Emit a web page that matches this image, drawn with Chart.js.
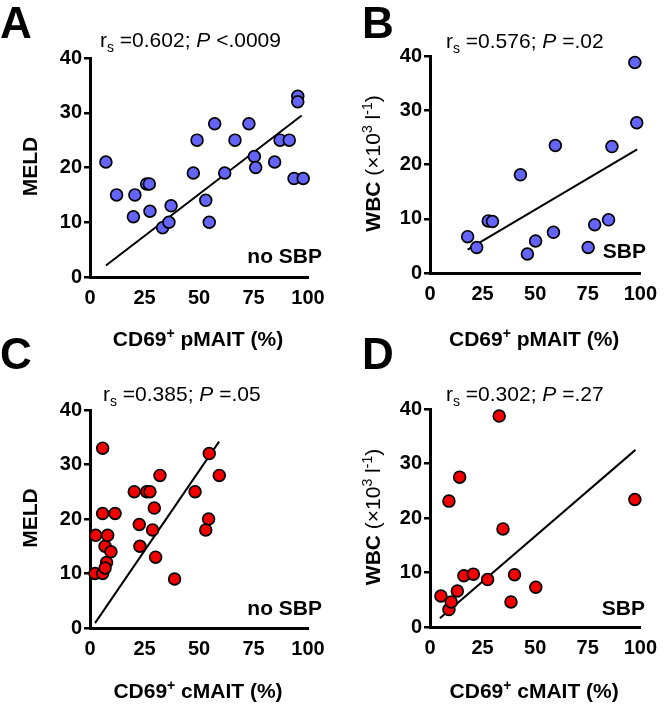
<!DOCTYPE html>
<html>
<head>
<meta charset="utf-8">
<script src="https://cdn.jsdelivr.net/npm/chart.js@4.4.1/dist/chart.umd.min.js"></script>
<style>
  body { margin: 0; background: #fff; }
  #wrap { position: relative; width: 666px; height: 705px; }
  #wrap canvas { position: absolute; left: 0; top: 0; }
</style>
</head>
<body>
<div id="wrap">
  <canvas id="chartA" width="666" height="705"></canvas>
  <canvas id="chartB" width="666" height="705"></canvas>
  <canvas id="chartC" width="666" height="705"></canvas>
  <canvas id="chartD" width="666" height="705"></canvas>
</div>
<script>
// ---- data ----
// A: CD69+ pMAIT vs MELD (no SBP)
const pmaitA = [7.3, 12.2, 20.6, 19.9, 26, 27.2, 27.5, 33.3, 36.2, 37.2, 47.4, 49.1, 53.1, 54.7,
  57.2, 61.8, 66.5, 72.9, 75.4, 76, 84.7, 87.2, 91.4, 95.3, 95.3, 93.6, 97.8];
const meldA = [21, 15, 15, 11, 17, 17, 12, 9, 10, 13, 19, 25, 14, 10,
  28, 19, 25, 28, 22, 20, 21, 25, 25, 33, 32, 18, 18];
const fitA = [[7.3, 2.1], [97.1, 29.5]];

// B: CD69+ pMAIT vs WBC (SBP)
const pmaitB = [17.9, 22.2, 27.7, 29.7, 43, 46.3, 50.2, 58.7, 59.6, 75.2, 78.3, 84.9, 86.5, 97.4, 98.3];
const wbcB = [6.7, 4.7, 9.6, 9.5, 18.1, 3.5, 5.9, 7.5, 23.5, 4.7, 8.9, 9.8, 23.3, 38.8, 27.7];
const fitB = [[17.9, 4.3], [98.5, 22.8]];

// C: CD69+ cMAIT vs MELD (no SBP)
const cmaitC = [2.6, 2.3, 5.8, 5.8, 5.8, 6.9, 7.6, 6.9, 8.1, 9.6, 11.5, 20.3, 22.6, 22.9,
  26, 27.5, 29.5, 28.7, 30.1, 32.1, 38.8, 48.2, 53.1, 54.4, 54.7, 59.3];
const meldC = [17, 10, 33, 21, 10, 15, 12, 11, 17, 14, 21, 25, 19, 15,
  25, 25, 22, 18, 13, 28, 9, 25, 18, 20, 32, 28];
const fitC = [[2.3, 0.9], [59.2, 34.2]];

// D: CD69+ cMAIT vs WBC (SBP)
const cmaitD = [5.2, 9, 10.1, 9, 13, 14.1, 16.1, 20.6, 27.4, 32.9, 34.7, 38.5, 40.2, 50.3, 97.4];
const wbcD = [5.7, 3.2, 4.6, 23.1, 6.6, 27.5, 9.4, 9.7, 8.7, 38.7, 18, 4.6, 9.6, 7.3, 23.4];
const fitD = [[4.7, 1.6], [97.7, 32.5]];

const xTicks = [0, 25, 50, 75, 100];
const yTicks = [0, 10, 20, 30, 40];

const statsA = ["0.602", "<.0009"];
const statsB = ["0.576", "=.02"];
const statsC = ["0.385", "=.05"];
const statsD = ["0.302", "=.27"];

const BLUE = "rgb(100, 100, 248)";
const RED = "rgb(240, 0, 0)";
const SANS = '"Liberation Sans", Arial, sans-serif';

function f(style, size) {
  return style + " " + size + "px " + SANS;
}

// draws a run of text pieces (sub/superscripts), optionally rotated
function drawRich(ctx, parts, x, y, align, rotate) {
  ctx.save();
  ctx.translate(x, y);
  if (rotate) ctx.rotate(-Math.PI / 2);
  ctx.fillStyle = "#000";
  ctx.textBaseline = "alphabetic";
  ctx.textAlign = "left";
  let total = 0;
  parts.forEach((p) => {
    ctx.font = p.font;
    total += ctx.measureText(p.text).width;
  });
  let cx = align == "center" ? -total / 2 : align == "right" ? -total : 0;
  parts.forEach((p) => {
    ctx.font = p.font;
    ctx.fillText(p.text, cx, p.dy || 0);
    cx += ctx.measureText(p.text).width;
  });
  ctx.restore();
}

function statsParts(stats) {
  return [
    { text: "r", font: f("normal", 21) },
    { text: "s", font: f("normal", 14), dy: 5 },
    { text: " =" + stats[0] + "; ", font: f("normal", 21) },
    { text: "P", font: f("italic", 21) },
    { text: " " + stats[1], font: f("normal", 21) },
  ];
}

function xTitleParts(cell) {
  return [
    { text: "CD69", font: f("bold", 21) },
    { text: "+", font: f("bold", 14), dy: -8 },
    { text: " " + cell + " (%)", font: f("bold", 21) },
  ];
}

const meldTitle = [{ text: "MELD", font: f("bold", 21) }];
const wbcTitle = [
  { text: "WBC ", font: f("bold", 21) },
  { text: "(\u00d710", font: f("normal", 21) },
  { text: "3", font: f("normal", 14), dy: -8 },
  { text: " l", font: f("normal", 21) },
  { text: "-1", font: f("normal", 14), dy: -8 },
  { text: ")", font: f("normal", 21) },
];

const decorPlugin = {
  id: "decor",
  afterDraw(chart, args, o) {
    const ctx = chart.ctx;
    const a = chart.chartArea;
    drawRich(ctx, [{ text: o.letter, font: f("bold", 44) }], o.letterX, o.letterY, "left");
    drawRich(ctx, statsParts(o.stats), o.statsX, o.statsY, "left");
    drawRich(ctx, o.yTitle, o.yTitleX, (a.top + a.bottom) / 2 - 1, "center", true);
    drawRich(ctx, xTitleParts(o.cell), (a.left + a.right) / 2 - 1, o.xTitleY, "center");
    drawRich(ctx, [{ text: o.group, font: f("bold", 21) }], o.groupX, o.groupY, "right");
  },
};

function makeChart(id, area, xs, ys, fit, color, decor) {
  const pts = xs.map((x, i) => ({ x: x, y: ys[i] }));
  const line = fit.map((p) => ({ x: p[0], y: p[1] }));
  return new Chart(document.getElementById(id), {
    type: "scatter",
    data: {
      datasets: [
        {
          data: pts,
          backgroundColor: color,
          borderColor: "#000",
          borderWidth: 1.7,
          pointRadius: 5.9,
          clip: false,
        },
        {
          data: line,
          showLine: true,
          borderColor: "#000",
          borderWidth: 2,
          pointRadius: 0,
          clip: false,
        },
      ],
    },
    options: {
      responsive: false,
      animation: false,
      events: [],
      layout: {
        padding: { left: area.l - 40, top: area.t, right: 666 - area.r, bottom: 705 - area.b - 40 },
      },
      scales: {
        x: {
          type: "linear",
          min: 0,
          max: 100,
          afterBuildTicks: (s) => { s.ticks = xTicks.map((v) => ({ value: v })); },
          afterFit: (s) => { s.height = 40; },
          grid: { display: false, drawTicks: false },
          border: { display: true, color: "#000", width: 3 },
          ticks: { color: "#000", padding: 9, font: { family: SANS, size: 20, weight: "bold" } },
        },
        y: {
          type: "linear",
          min: 0,
          max: 40,
          afterBuildTicks: (s) => { s.ticks = yTicks.map((v) => ({ value: v })); },
          afterFit: (s) => { s.width = 40; },
          grid: { drawOnChartArea: false, drawTicks: true, tickLength: 6, color: "#000", lineWidth: 2.5 },
          border: { display: true, color: "#000", width: 3 },
          ticks: { color: "#000", padding: 2, font: { family: SANS, size: 20, weight: "bold" } },
        },
      },
      plugins: {
        legend: { display: false },
        tooltip: { enabled: false },
        decor: decor,
      },
    },
    plugins: [decorPlugin],
  });
}

makeChart("chartA", { l: 90, t: 58, r: 308, b: 277 }, pmaitA, meldA, fitA, BLUE, {
  letter: "A", letterX: 0, letterY: 38,
  stats: statsA, statsX: 100, statsY: 47,
  yTitle: meldTitle, yTitleX: 37,
  cell: "pMAIT", xTitleY: 346,
  group: "no SBP", groupX: 322, groupY: 263,
});
makeChart("chartB", { l: 430, t: 56, r: 648, b: 273 }, pmaitB, wbcB, fitB, BLUE, {
  letter: "B", letterX: 362, letterY: 38,
  stats: statsB, statsX: 446, statsY: 48,
  yTitle: wbcTitle, yTitleX: 380,
  cell: "pMAIT", xTitleY: 346,
  group: "SBP", groupX: 646, groupY: 258,
});
makeChart("chartC", { l: 90, t: 410, r: 308, b: 628 }, cmaitC, meldC, fitC, RED, {
  letter: "C", letterX: 0, letterY: 369,
  stats: statsC, statsX: 103, statsY: 401,
  yTitle: meldTitle, yTitleX: 37,
  cell: "cMAIT", xTitleY: 698,
  group: "no SBP", groupX: 322, groupY: 615,
});
makeChart("chartD", { l: 430, t: 409, r: 648, b: 627 }, cmaitD, wbcD, fitD, RED, {
  letter: "D", letterX: 362, letterY: 369,
  stats: statsD, statsX: 446, statsY: 401,
  yTitle: wbcTitle, yTitleX: 380,
  cell: "cMAIT", xTitleY: 698,
  group: "SBP", groupX: 645, groupY: 615,
});
</script>
</body>
</html>
